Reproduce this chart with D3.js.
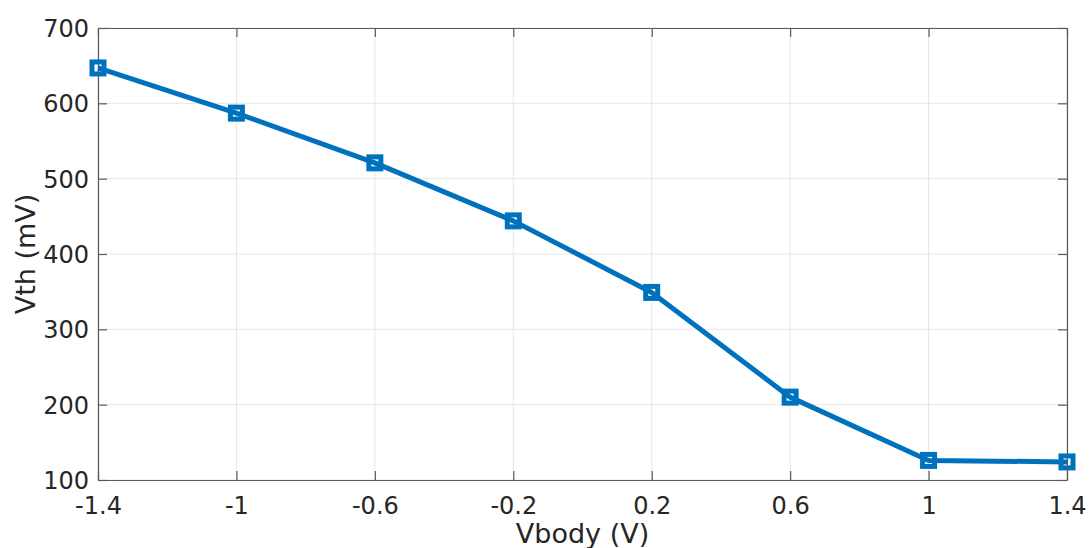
<!DOCTYPE html>
<html><head><meta charset="utf-8">
<script src="https://cdn.jsdelivr.net/npm/d3@7"></script>
<style>body{margin:0;background:#fff}svg{display:block}text{font-family:"DejaVu Sans",sans-serif;fill:#262626}</style>
</head><body><svg id="c" width="1089" height="548"></svg>
<script>
const vbody = [-1.4, -1, -0.6, -0.2, 0.2, 0.6, 1, 1.4];
const vth = [647, 587, 521, 444, 349, 210, 126, 124];
const xTicks = [-1.4, -1, -0.6, -0.2, 0.2, 0.6, 1, 1.4];
const yTicks = [100, 200, 300, 400, 500, 600, 700];

const svg = d3.select("#c");
const L = 98, R = 1067, T = 28, B = 480;
const x = d3.scaleLinear().domain([-1.4, 1.4]).range([L, R]);
const y = d3.scaleLinear().domain([100, 700]).range([B, T]);
const axisCol = "#5a5a5a";

// grid
svg.append("g").selectAll("line").data(xTicks).join("line")
  .attr("x1", d => x(d)).attr("x2", d => x(d)).attr("y1", T).attr("y2", B)
  .attr("stroke", "#e6e6e6").attr("stroke-width", 1);
svg.append("g").selectAll("line").data(yTicks).join("line")
  .attr("y1", d => y(d)).attr("y2", d => y(d)).attr("x1", L).attr("x2", R)
  .attr("stroke", "#e6e6e6").attr("stroke-width", 1);

const fmt = d => String(d);
const tl = 9;
const gx = svg.append("g").attr("transform", `translate(0,${B})`)
  .call(d3.axisBottom(x).tickValues(xTicks).tickFormat(fmt).tickSizeInner(-tl).tickSizeOuter(0).tickPadding(17));
const gxt = svg.append("g").attr("transform", `translate(0,${T})`)
  .call(d3.axisTop(x).tickValues(xTicks).tickFormat("").tickSizeInner(-tl).tickSizeOuter(0));
const gy = svg.append("g").attr("transform", `translate(${L},0)`)
  .call(d3.axisLeft(y).tickValues(yTicks).tickFormat(fmt).tickSizeInner(-tl).tickSizeOuter(0).tickPadding(9));
const gyr = svg.append("g").attr("transform", `translate(${R},0)`)
  .call(d3.axisRight(y).tickValues(yTicks).tickFormat("").tickSizeInner(-tl).tickSizeOuter(0));
[gx, gxt, gy, gyr].forEach(g => {
  g.selectAll(".domain").attr("stroke", axisCol).attr("stroke-width", 1.2);
  g.selectAll(".tick line").attr("stroke", axisCol).attr("stroke-width", 1.2);
  g.selectAll("text").attr("font-size", 24).attr("fill", "#262626").attr("font-family", "DejaVu Sans, sans-serif");
});
gx.selectAll("text").attr("dy", "0.71em");
gy.selectAll("text").attr("dy", "0.35em");

// line
const line = d3.line().x((d, i) => x(vbody[i])).y(d => y(d));
svg.append("path").datum(vth).attr("d", line).attr("fill", "none")
  .attr("stroke", "#0072BD").attr("stroke-width", 5).attr("stroke-linejoin", "round");
const ms = 12;
svg.append("g").selectAll("rect").data(vth).join("rect")
  .attr("x", (d, i) => x(vbody[i]) - ms / 2).attr("y", d => y(d) - ms / 2)
  .attr("width", ms).attr("height", ms).attr("fill", "none")
  .attr("stroke", "#0072BD").attr("stroke-width", 5);

// labels
svg.append("text").attr("x", (L + R) / 2).attr("y", 543).attr("text-anchor", "middle")
  .attr("font-size", 27).text("Vbody (V)");
svg.append("text").attr("transform", `translate(35,${(T + B) / 2}) rotate(-90)`)
  .attr("text-anchor", "middle").attr("font-size", 27).text("Vth (mV)");
</script></body></html>
